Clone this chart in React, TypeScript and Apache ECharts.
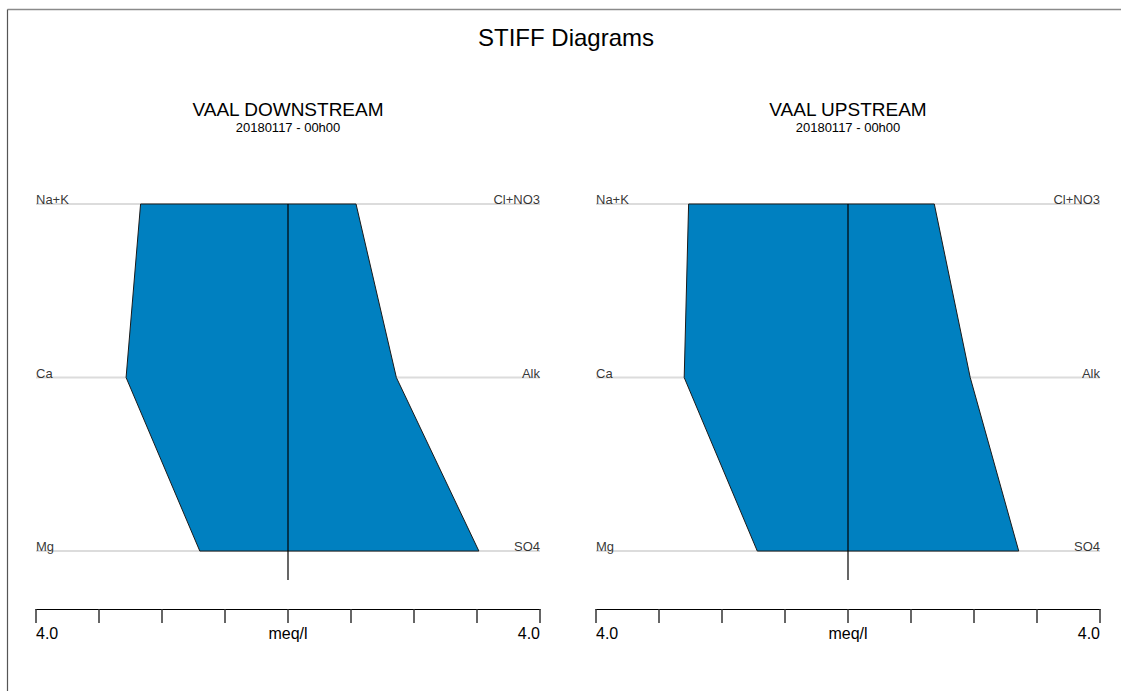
import React, { useEffect, useRef } from "react";
import * as echarts from "echarts";

const mainTitle = "STIFF Diagrams";
const panelTitles = ["VAAL DOWNSTREAM", "VAAL UPSTREAM"];
const panelSubtitles = ["20180117 - 00h00", "20180117 - 00h00"];
const cationLabels = ["Na+K", "Ca", "Mg"];
const anionLabels = ["Cl+NO3", "Alk", "SO4"];
// meq/l values
const downCations = [2.34, 2.57, 1.4];
const downAnions = [1.08, 1.72, 3.03];
const upCations = [2.53, 2.6, 1.44];
const upAnions = [1.37, 1.94, 2.71];
const panelCations = [downCations, upCations];
const panelAnions = [downAnions, upAnions];
const axisUnit = "meq/l";
const axisEndLabel = "4.0";
const axisMax = 4;

const FONT = "Liberation Sans, Arial, sans-serif";
const FILL = "#0080C0";

export default function App() {
  const ref = useRef<HTMLDivElement>(null);
  useEffect(() => {
    if (!ref.current) return;
    const chart = echarts.init(ref.current, undefined, { renderer: "svg" });

    const rowsCount = cationLabels.length;
    const yMax = 2.334;
    const centerEnd = 2.167;

    const grids = [
      { left: 36, right: 581, top: 204, bottom: 82 },
      { left: 596, right: 21, top: 204, bottom: 82 },
    ];
    const panelCenters = [288, 848];

    const xAxes: any[] = [];
    const yAxes: any[] = [];
    const series: any[] = [];
    const titles: any[] = [
      {
        text: mainTitle,
        left: 566,
        top: 25,
        textAlign: "center",
        padding: 0,
        textStyle: { fontFamily: FONT, fontSize: 24, fontWeight: "normal", color: "#000" },
      },
    ];

    for (let p = 0; p < 2; p++) {
      titles.push({
        text: panelTitles[p],
        left: panelCenters[p],
        top: 100,
        textAlign: "center",
        padding: 0,
        textStyle: { fontFamily: FONT, fontSize: 19, fontWeight: "normal", color: "#000" },
      });
      titles.push({
        text: panelSubtitles[p],
        left: panelCenters[p],
        top: 121,
        textAlign: "center",
        padding: 0,
        textStyle: { fontFamily: FONT, fontSize: 13, fontWeight: "normal", color: "#000" },
      });

      xAxes.push({
        gridIndex: p,
        type: "value",
        min: -axisMax,
        max: axisMax,
        interval: 1,
        position: "bottom",
        axisLine: { show: true, onZero: false, lineStyle: { color: "#000", width: 1.2 } },
        axisTick: { show: true, inside: false, length: 14, lineStyle: { color: "#333", width: 1.5 } },
        splitLine: { show: false },
        axisLabel: {
          show: true,
          margin: 16,
          fontFamily: FONT,
          fontSize: 16,
          color: "#000",
          showMinLabel: true,
          showMaxLabel: true,
          alignMinLabel: "left",
          alignMaxLabel: "right",
          formatter: (v: number) =>
            Math.abs(v) === axisMax ? axisEndLabel : v === 0 ? axisUnit : "",
        },
      });
      yAxes.push({
        gridIndex: p,
        type: "value",
        inverse: true,
        min: 0,
        max: yMax,
        show: false,
      });

      // row guide lines
      for (let k = 0; k < rowsCount; k++) {
        series.push({
          type: "line",
          xAxisIndex: p,
          yAxisIndex: p,
          data: [
            [-axisMax, k],
            [axisMax, k],
          ],
          symbol: "none",
          lineStyle: { color: "#dcdcdc", width: 2 },
          z: 1,
          silent: true,
        });
      }

      const cat = panelCations[p];
      const an = panelAnions[p];
      series.push({
        type: "custom",
        xAxisIndex: p,
        yAxisIndex: p,
        data: [[0, 0]],
        z: 2,
        renderItem: (params: any, api: any) => {
          const pts: number[][] = [];
          for (let k = 0; k < cat.length; k++) pts.push(api.coord([-cat[k], k]));
          for (let k = an.length - 1; k >= 0; k--) pts.push(api.coord([an[k], k]));
          return {
            type: "polygon",
            shape: { points: pts },
            style: { fill: FILL, stroke: "#1a1a1a", lineWidth: 1 },
          };
        },
      });

      // center line
      series.push({
        type: "line",
        xAxisIndex: p,
        yAxisIndex: p,
        data: [
          [0, 0],
          [0, centerEnd],
        ],
        symbol: "none",
        lineStyle: { color: "#000", width: 1.2 },
        z: 3,
        silent: true,
      });

      // row labels
      series.push({
        type: "scatter",
        xAxisIndex: p,
        yAxisIndex: p,
        symbolSize: 0,
        data: cationLabels.map((_, k) => [-axisMax, k]),
        z: 4,
        label: {
          show: true,
          position: "top",
          distance: 0,
          align: "left",
          offset: [0, 2],
          fontFamily: FONT,
          fontSize: 13,
          color: "#000",
          formatter: (d: any) => cationLabels[d.dataIndex],
        },
        silent: true,
      });
      series.push({
        type: "scatter",
        xAxisIndex: p,
        yAxisIndex: p,
        symbolSize: 0,
        data: anionLabels.map((_, k) => [axisMax, k]),
        z: 4,
        label: {
          show: true,
          position: "top",
          distance: 0,
          align: "right",
          offset: [0, 2],
          fontFamily: FONT,
          fontSize: 13,
          color: "#000",
          formatter: (d: any) => anionLabels[d.dataIndex],
        },
        silent: true,
      });
    }

    chart.setOption({
      animation: false,
      backgroundColor: "#fff",
      title: titles,
      grid: grids,
      xAxis: xAxes,
      yAxis: yAxes,
      series,
      graphic: [
        {
          type: "line",
          shape: { x1: 7.5, y1: 9.5, x2: 1121, y2: 9.5 },
          style: { stroke: "#8a8a8a", lineWidth: 1.5 },
          silent: true,
          z: 10,
        },
        {
          type: "line",
          shape: { x1: 7.5, y1: 9.5, x2: 7.5, y2: 691 },
          style: { stroke: "#555", lineWidth: 1.2 },
          silent: true,
          z: 10,
        },
      ],
    });
    return () => chart.dispose();
  }, []);

  return (
    <div
      ref={ref}
      style={{ position: "fixed", left: 0, top: 0, width: 1121, height: 691 }}
    />
  );
}
